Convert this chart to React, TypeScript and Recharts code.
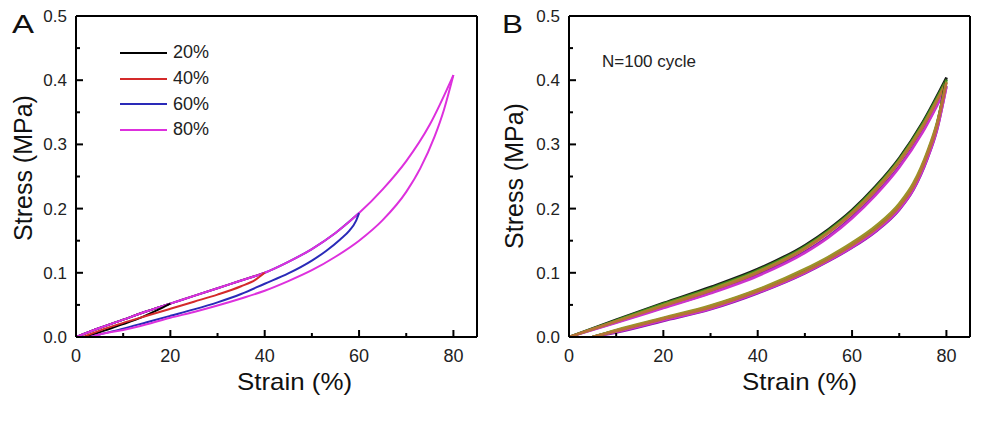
import { LineChart, Line, XAxis, YAxis, ReferenceLine, Legend } from "recharts";

const FONT = "Arial, 'Liberation Sans', Helvetica, sans-serif";

const X_TICKS = [0, 10, 20, 30, 40, 50, 60, 70, 80];
const Y_TICKS = [0, 0.05, 0.1, 0.15, 0.2, 0.25, 0.3, 0.35, 0.4, 0.45, 0.5];

// ---- panel A: loops to 20/40/60/80 % strain (loading path is shared)
const LOAD_STRAIN = [0, 5, 10, 15, 20, 25, 30, 35, 40, 45, 50, 55, 60, 65, 70, 75, 80];
const LOAD_STRESS = [0, 0.014, 0.027, 0.04, 0.052, 0.064, 0.076, 0.088, 0.1, 0.117, 0.137, 0.162, 0.193, 0.23, 0.274, 0.331, 0.408];

const UNLOAD20_STRAIN = [2, 6, 10, 14, 17, 20];
const UNLOAD20_STRESS = [0, 0.01, 0.02, 0.031, 0.041, 0.052];

const UNLOAD40_STRAIN = [1.5, 5, 10, 15, 20, 25, 30, 35, 38, 40];
const UNLOAD40_STRESS = [0, 0.01, 0.022, 0.033, 0.044, 0.055, 0.066, 0.079, 0.089, 0.1];

const UNLOAD60_STRAIN = [3, 5, 10, 15, 20, 25, 30, 35, 40, 45, 50, 53, 56, 58, 59.3, 60];
const UNLOAD60_STRESS = [0, 0.004, 0.013, 0.023, 0.033, 0.043, 0.054, 0.067, 0.083, 0.099, 0.119, 0.134, 0.152, 0.166, 0.18, 0.193];

const UNLOAD80_STRAIN = [3, 5, 10, 15, 20, 25, 30, 35, 40, 45, 50, 55, 60, 65, 70, 73, 76, 78, 80];
const UNLOAD80_STRESS = [0, 0.004, 0.011, 0.02, 0.03, 0.039, 0.049, 0.06, 0.072, 0.087, 0.104, 0.125, 0.15, 0.182, 0.226, 0.263, 0.312, 0.354, 0.408];

const LOOPS_A = [
  { name: "20%", color: "#000000", max: 20, uStrain: UNLOAD20_STRAIN, uStress: UNLOAD20_STRESS },
  { name: "40%", color: "#d42a2a", max: 40, uStrain: UNLOAD40_STRAIN, uStress: UNLOAD40_STRESS },
  { name: "60%", color: "#2a2ab8", max: 60, uStrain: UNLOAD60_STRAIN, uStress: UNLOAD60_STRESS },
  { name: "80%", color: "#dd30dd", max: 80, uStrain: UNLOAD80_STRAIN, uStress: UNLOAD80_STRESS },
];

// ---- panel B: repeated 80 % cycles
const B_LOAD_STRAIN = [0, 10, 20, 30, 40, 50, 55, 60, 65, 70, 75, 80];
const B_UNLOAD_STRAIN = [5, 10, 20, 30, 40, 50, 55, 60, 65, 70, 73, 76, 78, 80];

const B_LOAD_PURPLE = [0, 0.023, 0.046, 0.069, 0.097, 0.133, 0.157, 0.187, 0.223, 0.266, 0.321, 0.391];
const B_LOAD_MAGENTA = [0, 0.022, 0.045, 0.068, 0.095, 0.131, 0.155, 0.185, 0.221, 0.264, 0.319, 0.389];
const B_LOAD_BLACK = [0, 0.027, 0.053, 0.078, 0.106, 0.143, 0.168, 0.198, 0.235, 0.279, 0.335, 0.404];
const B_LOAD_GREEN = [0, 0.026, 0.052, 0.076, 0.104, 0.141, 0.166, 0.196, 0.233, 0.277, 0.333, 0.401];
const B_LOAD_OLIVE = [0, 0.025, 0.05, 0.074, 0.102, 0.139, 0.164, 0.194, 0.231, 0.275, 0.33, 0.398];
const B_LOAD_ORANGE = [0, 0.024, 0.048, 0.072, 0.1, 0.137, 0.162, 0.192, 0.228, 0.272, 0.327, 0.396];

const B_UNLOAD_PURPLE = [0, 0.007, 0.025, 0.043, 0.068, 0.099, 0.118, 0.139, 0.164, 0.198, 0.229, 0.278, 0.322, 0.391];
const B_UNLOAD_MAGENTA = [0, 0.008, 0.026, 0.044, 0.069, 0.1, 0.119, 0.14, 0.165, 0.199, 0.23, 0.279, 0.323, 0.389];
const B_UNLOAD_BLACK = [0, 0.01, 0.029, 0.048, 0.073, 0.104, 0.123, 0.145, 0.171, 0.205, 0.237, 0.287, 0.332, 0.404];
const B_UNLOAD_GREEN = [0, 0.01, 0.029, 0.047, 0.072, 0.103, 0.122, 0.144, 0.17, 0.204, 0.236, 0.286, 0.331, 0.401];
const B_UNLOAD_OLIVE = [0, 0.011, 0.03, 0.049, 0.074, 0.106, 0.125, 0.147, 0.173, 0.208, 0.24, 0.29, 0.334, 0.398];
const B_UNLOAD_ORANGE = [0, 0.009, 0.028, 0.046, 0.071, 0.102, 0.121, 0.143, 0.168, 0.203, 0.234, 0.284, 0.328, 0.396];

const CYCLES_B = [
  { color: "#8a1aaa", load: B_LOAD_PURPLE, unload: B_UNLOAD_PURPLE },
  { color: "#cc33cc", load: B_LOAD_MAGENTA, unload: B_UNLOAD_MAGENTA },
  { color: "#1a1a1a", load: B_LOAD_BLACK, unload: B_UNLOAD_BLACK },
  { color: "#3a8a1e", load: B_LOAD_GREEN, unload: B_UNLOAD_GREEN },
  { color: "#9a9428", load: B_LOAD_OLIVE, unload: B_UNLOAD_OLIVE },
  { color: "#b8703a", load: B_LOAD_ORANGE, unload: B_UNLOAD_ORANGE },
];

function pts(xs: number[], ys: number[]) {
  return xs.map((x, i) => ({ x, y: ys[i] }));
}

function XTick(props: any) {
  const { x, y, payload } = props;
  const v = payload.value;
  const major = v % 20 === 0;
  return (
    <g>
      <line x1={x} x2={x} y1={y} y2={y - (major ? 7 : 4)} stroke="#000" strokeWidth={2} />
      {major && (
        <text x={x} y={y + 25} textAnchor="middle" fontSize={18} fontFamily={FONT} fill="#222">
          {v}
        </text>
      )}
    </g>
  );
}

function YTick(props: any) {
  const { x, y, payload } = props;
  const v = payload.value;
  const major = Math.round(v * 100) % 10 === 0;
  return (
    <g>
      <line x1={x} x2={x + (major ? 7 : 4)} y1={y} y2={y} stroke="#000" strokeWidth={2} />
      {major && (
        <text x={x - 9} y={y + 6} textAnchor="end" fontSize={17} fontFamily={FONT} fill="#222">
          {v.toFixed(1)}
        </text>
      )}
    </g>
  );
}

function LegendA() {
  return (
    <div style={{ fontFamily: FONT }}>
      {LOOPS_A.map((l) => (
        <div key={l.name} style={{ display: "flex", alignItems: "center", height: 25.7 }}>
          <div style={{ width: 47, height: 2, background: l.color }} />
          <span style={{ marginLeft: 6, fontSize: 18, color: "#222" }}>{l.name}</span>
        </div>
      ))}
    </div>
  );
}

const MARGIN = { top: 16, right: 23, bottom: 56, left: 16 };

function frame() {
  return [
    <ReferenceLine key="t" y={0.5} stroke="#000" strokeWidth={2} />,
    <ReferenceLine key="r" x={85} stroke="#000" strokeWidth={2} />,
  ];
}

function axes() {
  return [
    <XAxis
      key="x"
      dataKey="x"
      type="number"
      domain={[0, 85]}
      ticks={X_TICKS}
      interval={0}
      allowDataOverflow
      tickSize={0}
      tickMargin={0}
      height={30}
      axisLine={{ stroke: "#000", strokeWidth: 2 }}
      tickLine={false}
      tick={<XTick />}
    />,
    <YAxis
      key="y"
      dataKey="y"
      type="number"
      domain={[0, 0.5]}
      ticks={Y_TICKS}
      interval={0}
      allowDataOverflow
      tickSize={0}
      tickMargin={0}
      width={60}
      axisLine={{ stroke: "#000", strokeWidth: 2 }}
      tickLine={false}
      tick={<YTick />}
    />,
  ];
}

export default function App() {
  return (
    <div style={{ position: "fixed", left: 0, top: 0, width: 1000, height: 423, background: "#fff", fontFamily: FONT }}>
      <div style={{ position: "absolute", left: 0, top: 0 }}>
        <LineChart width={500} height={423} margin={MARGIN}>
          {axes()}
          {frame()}
          {LOOPS_A.map((l) => (
            <Line
              key={"l" + l.name}
              data={pts(LOAD_STRAIN.filter((s) => s <= l.max), LOAD_STRESS.filter((_, i) => LOAD_STRAIN[i] <= l.max))}
              dataKey="y"
              type="monotone"
              stroke={l.color}
              strokeWidth={2}
              dot={false}
              activeDot={false}
              isAnimationActive={false}
              name={l.name}
            />
          ))}
          {LOOPS_A.map((l) => (
            <Line
              key={"u" + l.name}
              data={pts(l.uStrain, l.uStress)}
              dataKey="y"
              type="monotone"
              stroke={l.color}
              strokeWidth={2}
              dot={false}
              activeDot={false}
              isAnimationActive={false}
              legendType="none"
            />
          ))}
          <Legend
            layout="vertical"
            align="center"
            verticalAlign="middle"
            wrapperStyle={{ left: 120, top: 40, width: 120 }}
            content={() => <LegendA />}
          />
        </LineChart>
      </div>
      <div style={{ position: "absolute", left: 493, top: 0 }}>
        <LineChart width={500} height={423} margin={MARGIN}>
          {axes()}
          {frame()}
          {CYCLES_B.map((c, i) => (
            <Line
              key={"bl" + i}
              data={pts(B_LOAD_STRAIN, c.load)}
              dataKey="y"
              type="monotone"
              stroke={c.color}
              strokeWidth={2.5}
              dot={false}
              activeDot={false}
              isAnimationActive={false}
            />
          ))}
          {CYCLES_B.map((c, i) => (
            <Line
              key={"bu" + i}
              data={pts(B_UNLOAD_STRAIN, c.unload)}
              dataKey="y"
              type="monotone"
              stroke={c.color}
              strokeWidth={2.5}
              dot={false}
              activeDot={false}
              isAnimationActive={false}
            />
          ))}
        </LineChart>
      </div>
      <svg width={1000} height={423} style={{ position: "absolute", left: 0, top: 0, pointerEvents: "none" }}>
        <g fontFamily={FONT} fill="#111">
          <text x={12} y={33} fontSize={26} textLength={22} lengthAdjust="spacingAndGlyphs">A</text>
          <text x={502} y={33} fontSize={26} textLength={21} lengthAdjust="spacingAndGlyphs">B</text>
          <text x={237} y={390} fontSize={24} textLength={115} lengthAdjust="spacingAndGlyphs">Strain (%)</text>
          <text x={742} y={390} fontSize={24} textLength={115} lengthAdjust="spacingAndGlyphs">Strain (%)</text>
          <text x={32} y={168} fontSize={25} textAnchor="middle" transform="rotate(-90 32 168)">Stress (MPa)</text>
          <text x={523} y={176} fontSize={25} textAnchor="middle" transform="rotate(-90 523 176)">Stress (MPa)</text>
          <text x={602} y={67} fontSize={17} fill="#222">N=100 cycle</text>
        </g>
      </svg>
    </div>
  );
}
